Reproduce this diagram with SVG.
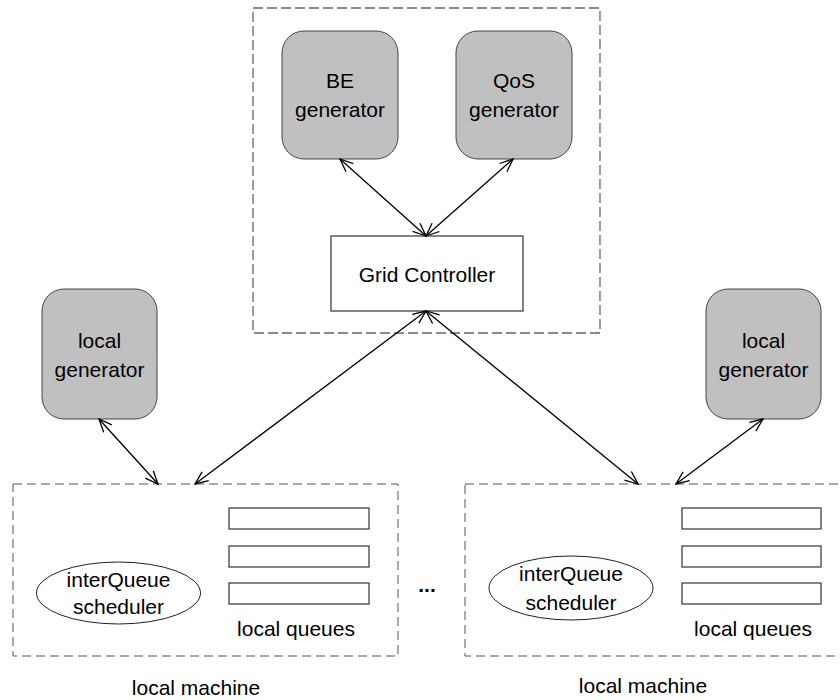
<svg xmlns="http://www.w3.org/2000/svg" width="840" height="700" viewBox="0 0 840 700">
<style>
text{font-family:"Liberation Sans",Arial,sans-serif;font-size:21px;fill:#000;text-anchor:middle}
.gen{fill:#c0c0c0;stroke:#444;stroke-width:1}
.dash{fill:none;stroke:#666;stroke-width:1.3;stroke-dasharray:10,4}
.dash2{fill:none;stroke:#555;stroke-width:1;stroke-dasharray:9,5}
.box{fill:#fff;stroke:#333;stroke-width:1.2}
.conn{stroke:#000;stroke-width:1.3;fill:none;marker-start:url(#ah);marker-end:url(#ah)}
</style>
<defs>
<marker id="ah" markerUnits="userSpaceOnUse" viewBox="-14 -7 16 14" refX="0" refY="0" markerWidth="16" markerHeight="14" orient="auto-start-reverse">
<path d="M-13,-5.5 L0,0 L-13,5.5" fill="none" stroke="#000" stroke-width="1.3"/>
</marker>
</defs>
<rect width="840" height="700" fill="#fff"/>
<g id="grid-site">
<rect class="dash" x="253" y="8" width="347" height="325"/>
</g>
<g id="be-generator">
<rect class="gen" x="282" y="31" width="116" height="128" rx="22"/>
<text x="340" y="88">BE</text>
<text x="340" y="117">generator</text>
</g>
<g id="qos-generator">
<rect class="gen" x="456" y="31" width="116" height="128" rx="22"/>
<text x="514" y="88">QoS</text>
<text x="514" y="117">generator</text>
</g>
<g id="grid-controller">
<rect class="box" x="331" y="236" width="192" height="75"/>
<text x="427" y="282">Grid Controller</text>
</g>
<g id="local-generator-left">
<rect class="gen" x="42" y="289" width="115" height="130" rx="22"/>
<text x="99.5" y="348">local</text>
<text x="99.5" y="377">generator</text>
</g>
<g id="local-generator-right">
<rect class="gen" x="706" y="289" width="115" height="130" rx="22"/>
<text x="763.5" y="348">local</text>
<text x="763.5" y="377">generator</text>
</g>
<g id="local-machine-left">
<rect class="dash2" x="13" y="484" width="385" height="172"/>
<ellipse cx="118.5" cy="593" rx="82" ry="31" fill="#fff" stroke="#222" stroke-width="1"/>
<text x="118.5" y="587">interQueue</text>
<text x="118.5" y="614">scheduler</text>
<rect class="box" x="229" y="508" width="140" height="21"/>
<rect class="box" x="229" y="546" width="140" height="21"/>
<rect class="box" x="229" y="583" width="140" height="21"/>
<text x="296" y="636">local queues</text>
<text x="196" y="695">local machine</text>
</g>
<g id="ellipsis">
<text x="427" y="592" style="font-weight:bold">...</text>
</g>
<g id="local-machine-right">
<rect class="dash2" x="465" y="484" width="400" height="172"/>
<ellipse cx="571" cy="588" rx="82" ry="32" fill="#fff" stroke="#222" stroke-width="1"/>
<text x="571" y="581">interQueue</text>
<text x="571" y="610">scheduler</text>
<rect class="box" x="682" y="508" width="139" height="21"/>
<rect class="box" x="682" y="546" width="139" height="21"/>
<rect class="box" x="682" y="583" width="139" height="21"/>
<text x="753" y="636">local queues</text>
<text x="643" y="693">local machine</text>
</g>
<g id="connectors">
<line class="conn" x1="340" y1="159" x2="426" y2="236"/>
<line class="conn" x1="513" y1="159" x2="426" y2="236"/>
<line class="conn" x1="426" y1="311" x2="195" y2="484"/>
<line class="conn" x1="426" y1="311" x2="638" y2="484"/>
<line class="conn" x1="99" y1="419" x2="158" y2="484"/>
<line class="conn" x1="763" y1="419" x2="676" y2="484"/>
</g>
</svg>
